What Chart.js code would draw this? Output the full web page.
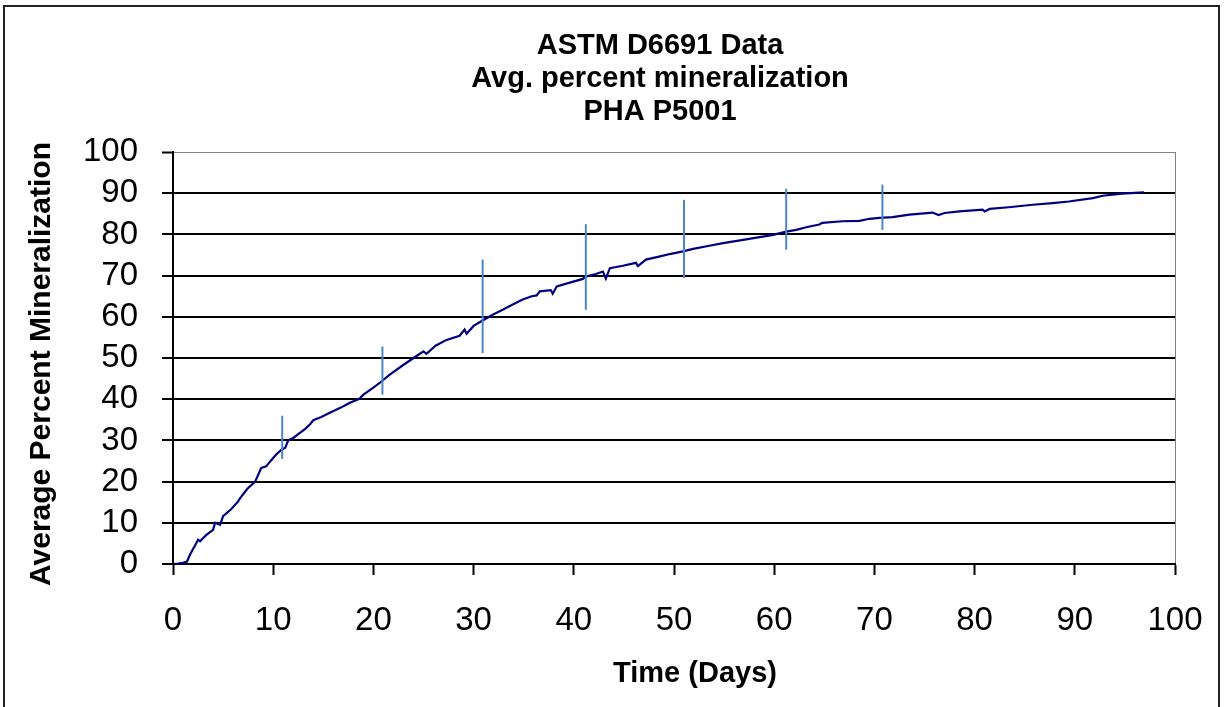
<!DOCTYPE html>
<html><head><meta charset="utf-8">
<script src="https://cdn.jsdelivr.net/npm/chart.js@4"></script>
<style>html,body{margin:0;padding:0;background:#fff;}#wrap{width:1225px;height:707px;position:relative;}</style>
</head><body><div id="wrap"><canvas id="c" width="1225" height="707"></canvas></div>
<script>
const titleLines = ['ASTM D6691 Data', 'Avg. percent mineralization', 'PHA P5001'];
const xAxisTitle = 'Time (Days)';
const yAxisTitle = 'Average Percent Mineralization';
const xTickValues = [0, 10, 20, 30, 40, 50, 60, 70, 80, 90, 100];
const yTickValues = [0, 10, 20, 30, 40, 50, 60, 70, 80, 90, 100];

const days = [0, 0.5, 1.0, 1.4, 1.7, 2.2, 2.5, 2.7, 3.3, 4.0, 4.2, 4.7, 5.0, 5.8, 6.5, 6.7, 7.4, 8.2, 8.8, 9.3, 9.7,
  10.3, 10.8, 11.2, 11.5, 12.0, 12.6, 13.2, 13.7, 14.0, 14.8, 15.7, 16.7, 17.6, 18.6, 19.0, 20.0, 20.8, 21.6,
  22.8, 24.0, 25.0, 25.3, 26.2, 27.3, 28.6, 29.1, 29.3, 30.0, 30.9, 31.9, 32.9, 33.9, 34.9, 35.8, 36.3, 36.6,
  37.7, 37.9, 38.3, 39.6, 40.9, 41.2, 42.2, 42.9, 43.2, 43.6, 44.9, 46.2, 46.4, 47.2, 48.5, 49.7, 50.9, 51.9,
  53.4, 54.9, 56.9, 58.4, 59.9, 61.2, 62.2, 63.3, 64.5, 64.8, 66.8, 68.5, 69.5, 70.5, 71.8, 73.5, 75.8, 76.4,
  77.0, 78.5, 80.8, 81.0, 81.5, 83.4, 85.8, 87.8, 89.4, 91.8, 92.8, 94.7, 96.9];
const mineralization = [0, 0.1, 0.3, 0.6, 2.3, 4.5, 5.9, 5.5, 7.0, 8.3, 10.0, 9.5, 11.6, 13.3, 15.2, 16.0, 18.2, 20.0, 23.3, 23.7, 24.9,
  26.6, 27.7, 28.2, 30.0, 30.6, 31.7, 32.8, 34.0, 34.9, 35.7, 36.8, 37.9, 39.1, 40.1, 41.1, 42.8, 44.3, 45.9,
  48.0, 50.0, 51.6, 51.0, 53.0, 54.4, 55.4, 56.9, 55.9, 57.8, 59.1, 60.5, 61.7, 63.0, 64.2, 65.0, 65.2, 66.2,
  66.5, 65.6, 67.4, 68.3, 69.2, 69.8, 70.4, 71.0, 69.3, 71.8, 72.4, 73.1, 72.3, 73.9, 74.6, 75.3, 75.9, 76.5,
  77.2, 77.9, 78.7, 79.3, 79.9, 80.7, 81.1, 81.8, 82.4, 82.8, 83.2, 83.3, 83.8, 84.0, 84.2, 84.8, 85.3, 84.7,
  85.2, 85.6, 86.0, 85.6, 86.2, 86.6, 87.2, 87.6, 88.0, 88.8, 89.4, 89.9, 90.2];

const errDays = [10.9, 20.9, 30.9, 41.2, 51.0, 61.2, 70.8];
const errLow  = [25.5, 41.1, 51.2, 61.7, 69.4, 76.3, 81.1];
const errHigh = [36.0, 52.8, 73.9, 82.5, 88.4, 91.1, 92.1];

const FONT = "'Liberation Sans', Arial, sans-serif";
const TITLE_CENTER_X = 660;
const XTITLE_CENTER_X = 695;
const YTITLE_CENTER_Y = 364;

const datasets = [];
errDays.forEach((d, i) => {
  datasets.push({
    data: [{x: d, y: errLow[i]}, {x: d, y: errHigh[i]}],
    showLine: true, borderColor: '#4a86c8', borderWidth: 2, pointRadius: 0, order: 0
  });
});
datasets.push({
  data: days.map((d, i) => ({x: d, y: mineralization[i]})),
  showLine: true, borderColor: '#000080', borderWidth: 2.2, pointRadius: 0, tension: 0, order: 1
});

const layoutFix = {
  id: 'layoutFix',
  beforeDraw(chart) {
    const ctx = chart.ctx;
    ctx.save();
    ctx.fillStyle = '#fff';
    ctx.fillRect(0, 0, chart.width, chart.height);
    ctx.strokeStyle = '#222';
    ctx.lineWidth = 2;
    ctx.strokeRect(4, 6, 1215, 720);
    ctx.restore();
  },
  afterLayout(chart) {
    const t = chart.titleBlock;
    if (t) { const dx = TITLE_CENTER_X - (t.left + t.right) / 2; t.left += dx; t.right += dx; }
    const sx = chart.scales.x;
    if (sx && !sx._origDT) {
      sx._origDT = sx.drawTitle;
      sx.drawTitle = function () {
        const l = this.left, r = this.right, dx = XTITLE_CENTER_X - (l + r) / 2;
        this.left = l + dx; this.right = r + dx; this._origDT(); this.left = l; this.right = r;
      };
    }
    const sy = chart.scales.y;
    if (sy && !sy._origDT) {
      sy._origDT = sy.drawTitle;
      sy.drawTitle = function () {
        const tp = this.top, bt = this.bottom, dy = YTITLE_CENTER_Y - (tp + bt) / 2;
        this.top = tp + dy; this.bottom = bt + dy; this._origDT(); this.top = tp; this.bottom = bt;
      };
    }
  }
};

new Chart(document.getElementById('c'), {
  type: 'scatter',
  data: { datasets },
  plugins: [layoutFix],
  options: {
    responsive: false, animation: false, devicePixelRatio: 1,
    layout: { padding: { left: 8, right: 50, top: 8, bottom: 0 } },
    plugins: {
      legend: { display: false }, tooltip: { enabled: false },
      title: {
        display: true, text: titleLines, color: '#000',
        font: { family: FONT, size: 29, weight: 'bold', lineHeight: 1.15 },
        padding: { top: 21, bottom: 23 }
      }
    },
    scales: {
      x: {
        type: 'linear', min: 0, max: 100,
        afterFit: s => { s.height = 143; s.paddingLeft = 0; s.paddingRight = 0; },
        afterBuildTicks: s => { s.ticks = xTickValues.map(v => ({value: v})); },
        ticks: { color: '#000', font: { family: FONT, size: 33, lineHeight: 1.2 }, padding: 26, maxRotation: 0, autoSkip: false },
        grid: {
          color: c => (c.tick && c.tick.value === 100) ? '#808080' : 'rgba(0,0,0,0)',
          lineWidth: 1, tickColor: '#000', tickWidth: 2, tickLength: 11, drawOnChartArea: true
        },
        border: { display: true, color: '#000', width: 2 },
        title: { display: true, text: xAxisTitle, color: '#000', font: { family: FONT, size: 29, weight: 'bold', lineHeight: 1.15 }, padding: { top: 0, bottom: 16 } }
      },
      y: {
        type: 'linear', min: 0, max: 100,
        afterFit: s => { s.width = 165; s.paddingTop = 0; s.paddingBottom = 0; },
        afterBuildTicks: s => { s.ticks = yTickValues.map(v => ({value: v})); },
        ticks: { color: '#000', font: { family: FONT, size: 33, lineHeight: 1.2 }, padding: 24, autoSkip: false },
        grid: {
          color: c => (c.tick && c.tick.value === 100) ? '#808080' : '#000',
          lineWidth: c => (c.tick && c.tick.value === 100) ? 1 : 2,
          tickColor: '#000', tickWidth: 2, tickLength: 11
        },
        border: { display: true, color: '#000', width: 2 },
        title: { display: true, text: yAxisTitle, color: '#000', font: { family: FONT, size: 30, weight: 'bold', lineHeight: 1.15 }, padding: { top: 16, bottom: 0 } }
      }
    }
  }
});
</script>
</body></html>
